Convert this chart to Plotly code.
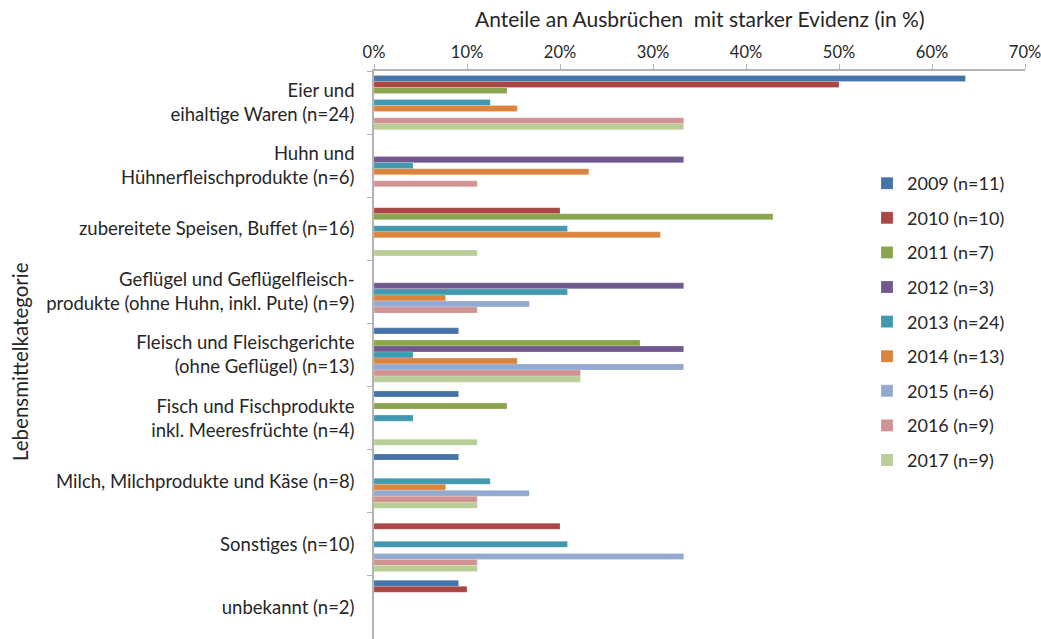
import plotly.graph_objects as go

# Food categories (top to bottom)
categories = [
    "Eier und<br>eihaltige Waren (n=24)",
    "Huhn und<br>Hühnerfleischprodukte (n=6)",
    "zubereitete Speisen, Buffet (n=16)",
    "Geflügel und Geflügelfleisch-<br>produkte (ohne Huhn, inkl. Pute) (n=9)",
    "Fleisch und Fleischgerichte<br>(ohne Geflügel) (n=13)",
    "Fisch und Fischprodukte<br>inkl. Meeresfrüchte (n=4)",
    "Milch, Milchprodukte und Käse (n=8)",
    "Sonstiges (n=10)",
    "unbekannt (n=2)",
]

# Share of outbreaks with strong evidence per year (in %), None = no outbreak
y2009 = [63.6, None, None, None, 9.1, 9.1, 9.1, None, 9.1]
y2010 = [50.0, None, 20.0, None, None, None, None, 20.0, 10.0]
y2011 = [14.3, None, 42.9, None, 28.6, 14.3, None, None, None]
y2012 = [None, 33.3, None, 33.3, 33.3, None, None, None, None]
y2013 = [12.5, 4.2, 20.8, 20.8, 4.2, 4.2, 12.5, 20.8, None]
y2014 = [15.4, 23.1, 30.8, 7.7, 15.4, None, 7.7, None, None]
y2015 = [None, None, None, 16.7, 33.3, None, 16.7, 33.3, None]
y2016 = [33.3, 11.1, None, 11.1, 22.2, None, 11.1, 11.1, None]
y2017 = [33.3, None, 11.1, None, 22.2, 11.1, 11.1, 11.1, None]

series_names = ["2009 (n=11)", "2010 (n=10)", "2011 (n=7)", "2012 (n=3)",
                "2013 (n=24)", "2014 (n=13)", "2015 (n=6)", "2016 (n=9)",
                "2017 (n=9)"]
series_values = [y2009, y2010, y2011, y2012, y2013, y2014, y2015, y2016, y2017]
colors = ["#4572A7", "#AA4643", "#89A54E", "#71588F", "#4198AF",
          "#DB843D", "#93A9CF", "#D19392", "#B9CD96"]

x_ticks = [0, 10, 20, 30, 40, 50, 60, 70]
x_tick_labels = ["0%", "10%", "20%", "30%", "40%", "50%", "60%", "70%"]

FONT = "Lato"
TEXT = "#262626"
AXIS = "#B3B3B3"

fig = go.Figure()
for name, vals, col in zip(series_names, series_values, colors):
    fig.add_trace(go.Bar(
        name=name, y=categories, x=vals, orientation="h",
        marker=dict(color=col, line=dict(color="rgba(255,255,255,0.35)", width=0.6)),
        legendgroup=name,
    ))

W, H = 1041, 639
L, R, T, B = 374, 16, 71, 0
pw, ph = W - L - R, H - T - B

fig.update_layout(
    width=W, height=H,
    margin=dict(l=L, r=R, t=T, b=B, pad=0),
    paper_bgcolor="white", plot_bgcolor="white",
    barmode="group", bargap=0.14, bargroupgap=0,
    font=dict(family=FONT, size=16, color=TEXT),
    showlegend=True,
    legend=dict(
        x=(867 - L) / pw, y=(H - 165) / ph, xanchor="left", yanchor="top",
        font=dict(family=FONT, size=18, color=TEXT),
        tracegroupgap=8.2, itemwidth=30, bgcolor="rgba(0,0,0,0)",
    ),
    xaxis=dict(
        side="top", range=[0, 70], tickvals=x_ticks, ticktext=x_tick_labels,
        ticks="outside", ticklen=5, tickcolor=AXIS, showgrid=False,
        showline=True, linecolor=AXIS, linewidth=1.5, zeroline=False,
        tickfont=dict(family=FONT, size=16.5, color=TEXT),
        ticklabeloverflow="allow", fixedrange=True,
    ),
    yaxis=dict(
        autorange="reversed", type="category", tickson="boundaries",
        ticks="outside", ticklen=5, tickcolor=AXIS, showgrid=False,
        showline=True, linecolor=AXIS, linewidth=1.5,
        tickfont=dict(family=FONT, size=18.5, color=TEXT),
        ticklabelstandoff=14, fixedrange=True,
    ),
    annotations=[
        dict(text="Anteile an Ausbrüchen  mit starker Evidenz (in %)",
             xref="paper", yref="paper", x=0.5, y=(H - 18) / ph,
             xanchor="center", yanchor="middle", showarrow=False,
             font=dict(family=FONT, size=21, color=TEXT)),
        dict(text="Lebensmittelkategorie", textangle=-90,
             xref="paper", yref="paper", x=(20 - L) / pw, y=(H - 362) / ph,
             xanchor="center", yanchor="middle", showarrow=False,
             font=dict(family=FONT, size=20.5, color=TEXT)),
    ],
)

fig.write_html("out.html")
